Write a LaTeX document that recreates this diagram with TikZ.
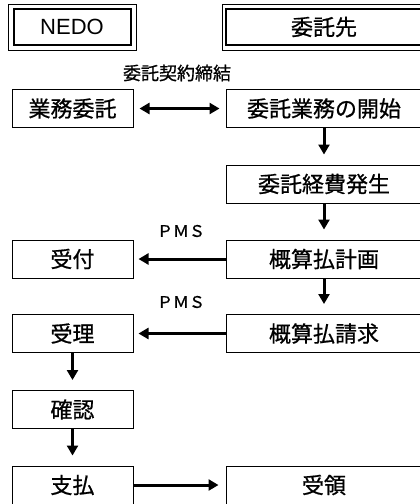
\documentclass[tikz,border=0pt]{standalone}
\usepackage{fontspec}
\newfontfamily\jpfont[FakeBold=0.8,AutoFakeBold=0.8]{Noto Sans CJK JP}
\newfontfamily\arialfont{Liberation Sans}
\usetikzlibrary{arrows.meta}
\tikzset{
  box/.style={draw, line width=1pt, minimum height=38pt, inner sep=0pt,
    font=\jpfont\fontsize{22}{22}\selectfont},
  lbox/.style={box, minimum width=121pt},
  rbox/.style={box, minimum width=196pt},
  frameout/.style={draw, line width=1pt, minimum height=46pt, inner sep=0pt},
  framein/.style={draw, line width=2pt, minimum height=36pt, inner sep=0pt,
    font=\fontsize{22}{22}\selectfont},
  lab/.style={inner sep=0pt},
  flow/.style={line width=3pt, -{Triangle[width=11pt,length=10pt]}},
}
\begin{document}
\begin{tikzpicture}[x=1pt,y=-1pt]
  \path[use as bounding box, clip] (0,0) rectangle (420,504);
  % headers
  \draw
    (72,27) node[frameout, minimum width=128pt] (nedoout){}
    (72,27) node[framein, minimum width=117pt] (nedo){\arialfont NEDO}
    (324,27) node[frameout, minimum width=204pt] (itakuout){}
    (324,27) node[framein, minimum width=196pt] (itakusaki){\jpfont 委託先};
  % boxes
  \draw
    (72.5,108.5) node[lbox] (gyomu){業務委託}
    (324,108.5) node[rbox] (kaishi){委託業務の開始}
    (324,184) node[rbox] (keihi){委託経費発生}
    (72.5,259) node[lbox] (uketsuke){受付}
    (324,259) node[rbox] (keikaku){概算払計画}
    (72.5,333.5) node[lbox] (juri){受理}
    (324,333.5) node[rbox] (seikyu){概算払請求}
    (72.5,409.5) node[lbox] (kakunin){確認}
    (72.5,485) node[lbox] (shiharai){支払}
    (324,485) node[rbox] (juryo){受領};
  % labels
  \draw
    (177,73) node[lab, font=\jpfont\fontsize{18}{18}\selectfont] (keiyaku){委託契約締結}
    (181,231) node[lab, font=\jpfont\fontsize{16}{16}\selectfont] (pms1){ＰＭＳ}
    (181,302) node[lab, font=\jpfont\fontsize{16}{16}\selectfont] (pms2){ＰＭＳ};
  % arrows
  \begin{scope}[flow]
    \draw[{Triangle[width=11pt,length=10pt]}-{Triangle[width=11pt,length=10pt]},
      shorten <=6pt, shorten >=6pt] (gyomu) to (kaishi);
    \draw[shorten >=10pt] (kaishi) to (keihi);
    \draw[shorten >=10pt] (keihi) to (keikaku);
    \draw[shorten >=5pt] (keikaku) to (uketsuke);
    \draw[shorten >=10pt] (keikaku) to (seikyu);
    \draw[shorten >=5pt] (seikyu) to (juri);
    \draw[shorten >=10pt] (juri) to (kakunin);
    \draw[shorten >=10pt] (kakunin) to (shiharai);
    \draw[shorten >=7pt] (shiharai) to (juryo);
  \end{scope}
\end{tikzpicture}
\end{document}
